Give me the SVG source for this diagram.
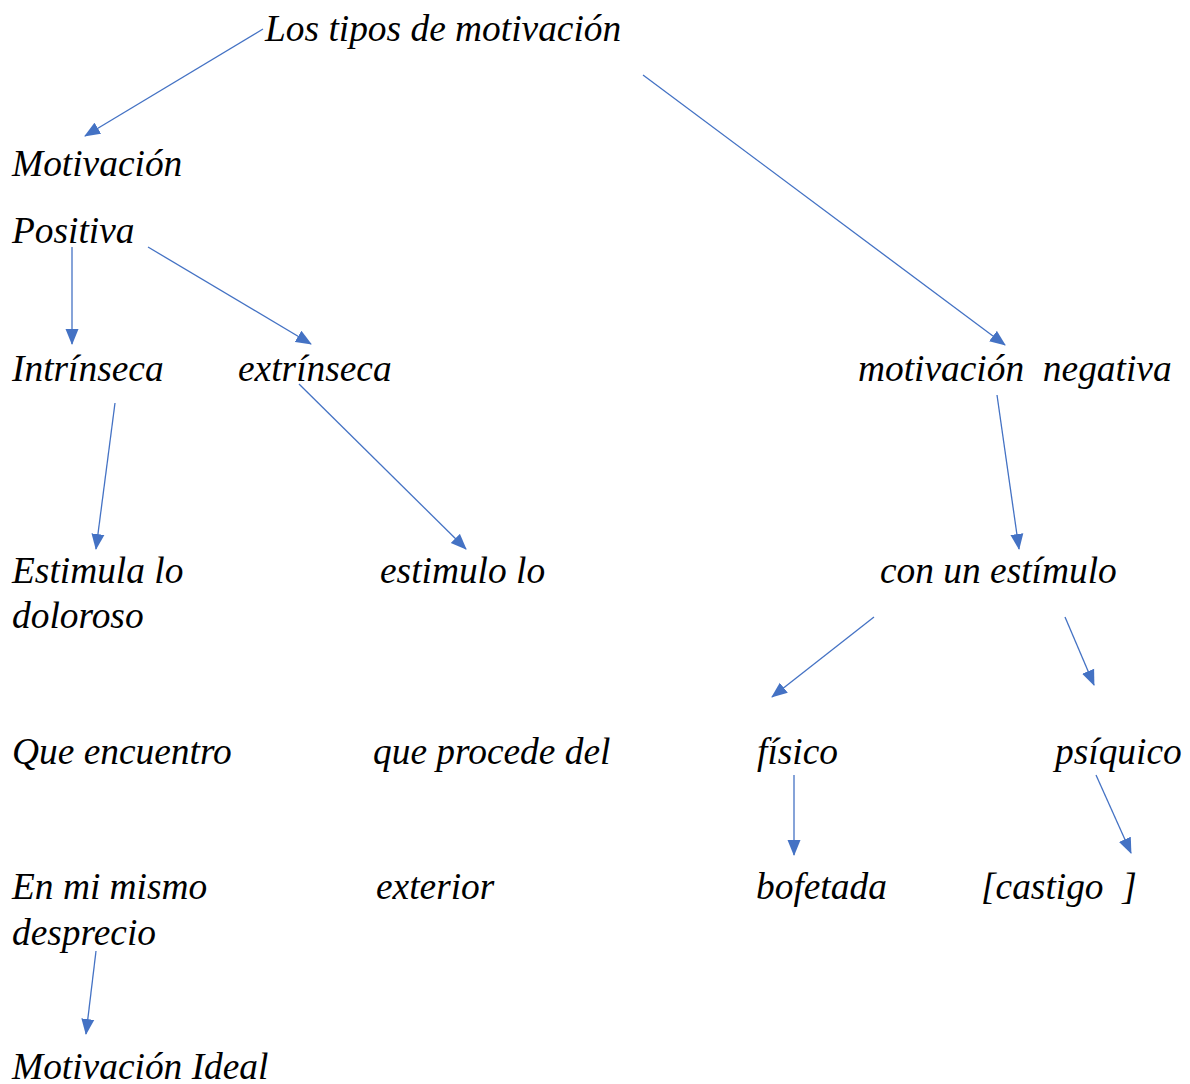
<svg xmlns="http://www.w3.org/2000/svg" width="1190" height="1084" viewBox="0 0 1190 1084">
<defs>
<style>
.t{font-family:"Liberation Serif","Times New Roman",serif;font-style:italic;font-size:37.4px;fill:#000}
.c{stroke:#4472C4;stroke-width:1.3;fill:none;marker-end:url(#ah)}
</style>
<marker id="ah" markerUnits="userSpaceOnUse" markerWidth="16" markerHeight="14" refX="15" refY="6.5" orient="auto" viewBox="0 0 16 13">
<path d="M0,0 L16,6.5 L0,13 z" fill="#4472C4"/>
</marker>
</defs>
<rect width="1190" height="1084" fill="#fff"/>
<g id="connectors">
<line class="c" x1="263" y1="29" x2="85" y2="136"/>
<line class="c" x1="643" y1="75" x2="1005" y2="345"/>
<line class="c" x1="72" y1="247" x2="72" y2="344"/>
<line class="c" x1="148" y1="247" x2="311" y2="344"/>
<line class="c" x1="115" y1="403" x2="96" y2="549"/>
<line class="c" x1="299" y1="384" x2="466" y2="549"/>
<line class="c" x1="997" y1="395" x2="1019" y2="549"/>
<line class="c" x1="874" y1="617" x2="772" y2="697"/>
<line class="c" x1="1065" y1="617" x2="1094" y2="685"/>
<line class="c" x1="794" y1="775" x2="794" y2="855"/>
<line class="c" x1="1096" y1="775" x2="1131" y2="853"/>
<line class="c" x1="96" y1="951" x2="86" y2="1034"/>
</g>
<g id="n-tipos"><text class="t" x="265" y="41">Los tipos de motivación</text></g>
<g id="n-motivacion"><text class="t" x="12" y="176">Motivación</text></g>
<g id="n-positiva"><text class="t" x="12" y="243">Positiva</text></g>
<g id="n-intrinseca"><text class="t" x="12" y="381">Intrínseca</text></g>
<g id="n-extrinseca"><text class="t" x="238" y="381">extrínseca</text></g>
<g id="n-negativa"><text class="t" x="858" y="381" xml:space="preserve">motivación  negativa</text></g>
<g id="n-estimula"><text class="t" x="12" y="583">Estimula lo</text><text class="t" x="12" y="628">doloroso</text></g>
<g id="n-estimulo"><text class="t" x="380" y="583">estimulo lo</text></g>
<g id="n-con"><text class="t" x="880" y="583">con un estímulo</text></g>
<g id="n-que"><text class="t" x="12" y="764">Que encuentro</text></g>
<g id="n-procede"><text class="t" x="373" y="764">que procede del</text></g>
<g id="n-fisico"><text class="t" x="757" y="764">físico</text></g>
<g id="n-psiquico"><text class="t" x="1055" y="764">psíquico</text></g>
<g id="n-mismo"><text class="t" x="12" y="899">En mi mismo</text><text class="t" x="12" y="945">desprecio</text></g>
<g id="n-exterior"><text class="t" x="376" y="899">exterior</text></g>
<g id="n-bofetada"><text class="t" x="756" y="899">bofetada</text></g>
<g id="n-castigo"><text class="t" x="981" y="899" xml:space="preserve">[castigo  ]</text></g>
<g id="n-ideal"><text class="t" x="12" y="1079">Motivación Ideal</text></g>
</svg>
